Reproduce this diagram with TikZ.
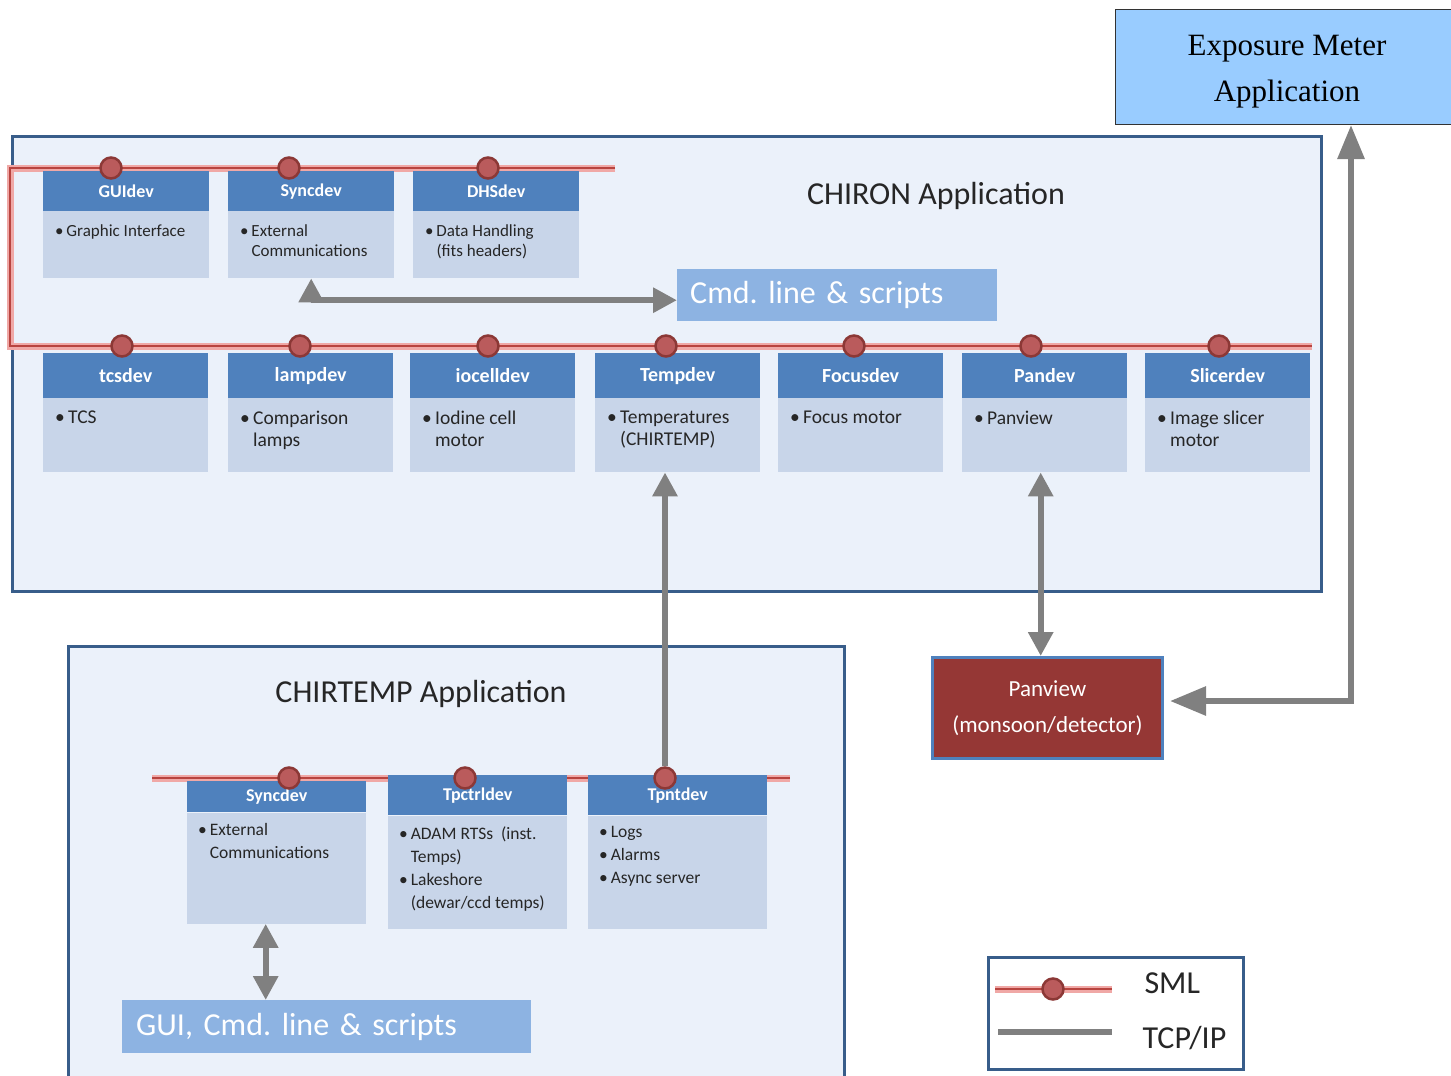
\documentclass[tikz,border=0pt]{standalone}
\usepackage{fontspec}
\setmainfont{Carlito}
\newfontfamily\expofont{Liberation Serif}
\usetikzlibrary{arrows.meta,positioning}
\definecolor{appfill}{HTML}{EBF1FA}
\definecolor{appline}{HTML}{385D8A}
\definecolor{hdblue}{HTML}{4F81BD}
\definecolor{bdblue}{HTML}{C8D5E9}
\definecolor{cmdblue}{HTML}{8DB3E2}
\definecolor{expblue}{HTML}{99CCFF}
\definecolor{panred}{HTML}{953735}
\definecolor{smlred}{HTML}{B8443F}
\definecolor{smlglow}{HTML}{F0A8A6}
\definecolor{dotred}{HTML}{BA5B5C}
\definecolor{dotedge}{HTML}{8C3836}
\definecolor{tcpgray}{HTML}{808080}
\definecolor{ink}{HTML}{262626}
\newcommand{\devbul}{\textbullet\,}
\newcommand{\devind}{\phantom{\textbullet\,}}
\frenchspacing

\begin{document}
\begin{tikzpicture}[x=1pt, y=-1pt, >={Triangle[length=24pt,width=24pt]},
  app/.style={draw=appline, line width=3pt, fill=appfill, anchor=north west, inner sep=0pt},
  hd/.style={fill=hdblue, text=white, inner sep=0pt, anchor=north west},
  bd/.style={fill=bdblue, inner sep=0pt, anchor=north west},
  bt/.style={inner sep=0pt, anchor=north west, align=left, text=ink},
  dot/.style={circle, fill=dotred, draw=dotedge, line width=2.5pt, minimum size=21pt, inner sep=0pt},
  sml/.style={draw=smlred, line width=2pt, preaction={draw=smlglow, line width=7pt}},
  tcp/.style={draw=tcpgray, line width=6pt},
  cmd/.style={fill=cmdblue, text=white, anchor=north west, align=left, inner ysep=0pt, inner xsep=13pt, font=\fontsize{32}{36}\selectfont},
  ttl/.style={text=ink, font=\fontsize{32}{36}\selectfont}]
\useasboundingbox (0,0) rectangle (1451,1076);

\node[draw=black!80, line width=1pt, fill=expblue, anchor=north west, minimum width=345pt, minimum height=115pt] (expo) at (1115,9) {};
\node[align=center, font=\expofont\fontsize{31}{46}\selectfont] (expotx) at ([yshift=-5pt, xshift=-1pt]expo.center) {Exposure Meter\\Application};

\node[app, minimum width=1309pt, minimum height=455pt] (chiron) at (11,135) {};
\node[app, minimum width=776pt, minimum height=445pt] (chirtemp) at (67,645) {};
\node[ttl] (chirontl) at (936,196) {CHIRON Application};
\node[ttl] (chirtemptl) at (421,694) {CHIRTEMP Application};

\draw[sml] (615,168) -- (10,168) -- (10,346) -- (1312,346);
\draw[sml] (152,778) -- (790,778);

\foreach \x/\c/\n/\t/\b in {
  43/111/gui/GUIdev/{\devbul Graphic Interface},
  228/289/sync/Syncdev/{\devbul External\\\devind Communications},
  413/488/dhs/DHSdev/{\devbul Data Handling\\\devind(fits headers)}} {
  \node[hd, minimum width=166pt, minimum height=40pt, font=\fontsize{18}{20}\selectfont\bfseries] (\n) at (\x,171) {\t};
  \node[bd, minimum width=166pt, minimum height=67pt] (\n-b) at (\x,211) {};
  \node[bt, font=\fontsize{17}{20}\selectfont] (\n-t) at ([xshift=12pt, yshift=-13pt]\n-b.north west) {\b};
  \node[dot] (\n-c) at (\c,168) {};
}

\foreach \x/\c/\n/\t/\b in {
  43/122/tcs/tcsdev/{\devbul TCS},
  228/300/lamp/lampdev/{\devbul Comparison\\\devind lamps},
  410/488/iocell/iocelldev/{\devbul Iodine cell\\\devind motor},
  595/666/temp/Tempdev/{\devbul Temperatures\\\devind(CHIRTEMP)},
  778/854/focus/Focusdev/{\devbul Focus motor},
  962/1031/pan/Pandev/{\devbul Panview},
  1145/1219/slicer/Slicerdev/{\devbul Image slicer\\\devind motor}} {
  \node[hd, minimum width=165pt, minimum height=45pt, font=\fontsize{20}{24}\selectfont\bfseries] (\n) at (\x,353) {\t};
  \node[bd, minimum width=165pt, minimum height=74pt] (\n-b) at (\x,398) {};
  \node[bt, font=\fontsize{19.5}{22}\selectfont] (\n-t) at ([xshift=12pt, yshift=-13pt]\n-b.north west) {\b};
  \node[dot] (\n-c) at (\c,346) {};
}

\foreach \x/\y/\hh/\bh/\c/\n/\t/\b in {
  187/781/31/111/289/csync/Syncdev/{\devbul External\\\devind Communications},
  388/775/40/113/465/tpctrl/Tpctrldev/{\devbul ADAM RTSs\ \ (inst.\\\devind Temps)\\\devbul Lakeshore\\\devind(dewar/ccd temps)},
  588/775/40/113/665/tpnt/Tpntdev/{\devbul Logs\\\devbul Alarms\\\devbul Async server}} {
  \node[hd, minimum width=179pt, minimum height=\hh pt, font=\fontsize{18}{20}\selectfont\bfseries] (\n) at (\x,\y) {\t};
  \node[bd, minimum width=179pt, minimum height=\bh pt, anchor=north] (\n-b) at (\n.south) {};
  \node[bt, font=\fontsize{17.5}{23}\selectfont] (\n-t) at ([xshift=11pt, yshift=-11pt]\n-b.north west) {\b};
  \node[dot] (\n-c) at (\c,778) {};
}

\node[cmd, minimum width=320pt, minimum height=52pt, text width=294pt] (cmdl) at (677,269) {Cmd. line \& scripts};
\node[cmd, minimum width=409pt, minimum height=53pt, text width=381pt, inner xsep=14pt] (gui) at (122,1000) {GUI, Cmd. line \& scripts};
\node[draw=hdblue, line width=3pt, fill=panred, text=white, anchor=north west, minimum width=230pt, minimum height=101pt, align=center, font=\fontsize{23}{36}\selectfont] (panview) at (931,656) {Panview\\(monsoon/detector)};

\draw[tcp, <->] (sync-b.south) |- ([yshift=-5pt]cmdl.west);
\draw[tcp, ->] (tpnt-c.north) -- (tpnt-c |- temp-b.south);
\draw[tcp, <->] ([xshift=-4pt]pan-b.south) -- ([xshift=-4pt]pan-b.south |- panview.north);
\draw[tcp, {Triangle[length=36pt,width=28pt]}-{Triangle[length=34pt,width=26pt]}, shorten <=6pt] ([yshift=7pt]panview.east) -| ([xshift=63pt]expo.south);
\draw[tcp, <->] ([xshift=-11pt]csync-b.south) -- ([xshift=-11pt]csync-b.south |- gui.north);

\node[draw=appline, line width=3pt, anchor=north west, minimum width=255pt, minimum height=112pt] (legend) at (987,956) {};
\coordinate (smla) at (995,989);
\coordinate (smlb) at (1112,989);
\coordinate (tcpa) at (998,1032);
\coordinate (tcpb) at (1112,1032);
\draw[sml] (smla) -- (smlb);
\node[dot] (legdot) at (1053,989) {};
\draw[tcp] (tcpa) -- (tcpb);
\node[ttl, anchor=west] (legsml) at (1141,983) {SML};
\node[ttl, anchor=west] (legtcp) at (1139,1038) {TCP/IP};
\end{tikzpicture}
\end{document}
